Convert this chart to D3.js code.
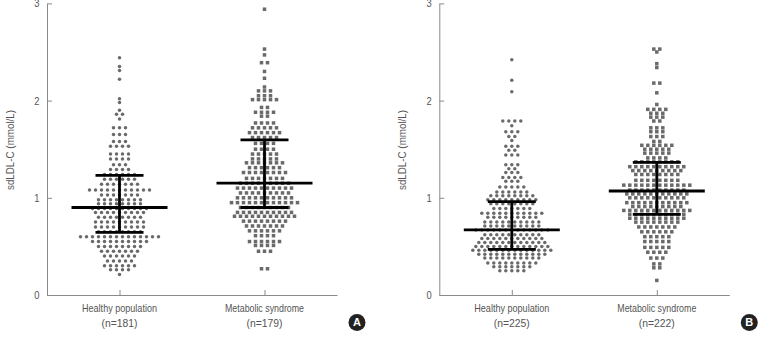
<!DOCTYPE html>
<html>
<head>
<meta charset="utf-8">
<script src="https://cdn.jsdelivr.net/npm/d3@7"></script>
<style>
  body { margin: 0; background: #fff; }
  svg text { font-family: "Liberation Sans Narrow", "Liberation Sans", Arial, sans-serif; }
</style>
</head>
<body>
<div id="plot"></div>
<script>
// categories and labels
var categories = ["Healthy population", "Metabolic syndrome"];
var nLabelsA = ["(n=181)", "(n=179)"];
var nLabelsB = ["(n=225)", "(n=222)"];
var yTicks = [0, 1, 2, 3];

// dot rows: [value, number of dots in the row]
var aHealthy = [[2.44,1],[2.35,1],[2.31,1],[2.22,1],[2.02,1],[1.98,1],[1.90,1],[1.86,2],[1.81,1],[1.72,3],[1.65,3],
  [1.58,3],[1.53,4],[1.45,4],[1.40,4],[1.34,3],[1.29,4],[1.24,6],[1.19,6],[1.14,7],[1.08,11],[1.03,7],[0.98,8],
  [0.94,8],[0.89,10],[0.85,9],[0.80,8],[0.75,9],[0.70,9],[0.65,8],[0.60,14],[0.55,10],[0.50,8],[0.45,7],[0.40,6],
  [0.35,5],[0.30,6],[0.26,4],[0.21,1]];
var aMetS = [[2.94,1],[2.53,1],[2.47,1],[2.39,2],[2.30,1],[2.23,1],[2.14,1],[2.10,3],[2.05,3],[2.01,5],[1.93,2],
  [1.88,4],[1.84,2],[1.77,4],[1.72,5],[1.67,6],[1.62,5],[1.56,4],[1.50,4],[1.45,5],[1.40,5],[1.36,7],[1.31,6],
  [1.26,8],[1.20,7],[1.15,9],[1.10,10],[1.05,9],[1.00,10],[0.95,12],[0.90,9],[0.85,10],[0.81,11],[0.76,8],
  [0.71,7],[0.66,6],[0.61,4],[0.55,6],[0.51,4],[0.45,3],[0.27,2]];
var bHealthy = [[2.42,1],[2.21,1],[2.09,1],[1.79,4],[1.74,1],[1.68,3],[1.63,2],[1.59,1],[1.53,3],[1.49,2],[1.44,3],
  [1.34,3],[1.30,2],[1.26,3],[1.21,4],[1.17,3],[1.11,5],[1.06,6],[1.02,8],[0.98,9],[0.94,8],[0.89,7],[0.84,11],
  [0.80,9],[0.75,10],[0.71,10],[0.67,13],[0.62,10],[0.58,11],[0.54,12],[0.50,13],[0.46,14],[0.42,12],[0.38,10],
  [0.33,9],[0.29,7],[0.25,5]];
var bMetS = [[2.53,2],[2.50,1],[2.38,1],[2.34,1],[2.18,2],[2.08,1],[1.96,1],[1.91,4],[1.87,3],[1.83,3],[1.79,2],
  [1.72,3],[1.68,3],[1.63,3],[1.58,2],[1.54,6],[1.50,5],[1.46,5],[1.41,4],[1.37,8],[1.32,10],[1.28,9],[1.24,8],
  [1.18,8],[1.13,12],[1.08,10],[1.04,11],[1.00,10],[0.95,11],[0.91,9],[0.87,12],[0.83,10],[0.79,10],[0.75,8],
  [0.70,7],[0.65,6],[0.60,5],[0.55,5],[0.49,5],[0.44,4],[0.38,3],[0.32,2],[0.28,2],[0.15,1]];

// median and interquartile range per group
var medianA = [0.90, 1.15];
var q1A = [0.645, 0.90];
var q3A = [1.23, 1.595];
var medianB = [0.67, 1.07];
var q1B = [0.47, 0.83];
var q3B = [0.96, 1.365];

const total_width = 759
const total_height = 337
const dot_color = "#6a6a6a"
const axis_color = "#8a8a8a"
const text_color = "#555"

var svg = d3.select("#plot").append("svg").attr("width", total_width).attr("height", total_height);

function narrow(sel, size, len) {
    // the original uses a condensed face, so squeeze the glyphs to the measured width
    sel.style("font-size", size + "px").attr("textLength", len).attr("lengthAdjust", "spacingAndGlyphs");
}

function draw_panel(left, groups, medians, q1s, q3s, nLabels, letter) {

    const width = 290
    const height = 291.6
    const top = 3.4

    var g = svg.append("g").attr("transform", "translate(" + left + "," + top + ")");

    var x = d3.scalePoint().domain(categories).range([0, width]).padding(0.5);
    var y = d3.scaleLinear().domain([0, 3]).range([height, 0]);

    var yAxis = d3.axisLeft(y).tickValues(yTicks).tickFormat(d3.format("d")).tickSizeInner(-5).tickSizeOuter(0).tickPadding(9);
    var ya = g.append("g").attr("class", "yaxis").call(yAxis);

    var xAxis = d3.axisBottom(x).tickSizeInner(-5).tickSizeOuter(0).tickFormat("");
    g.append("g").attr("class", "xaxis").attr("transform", "translate(0," + height + ")").call(xAxis);

    g.selectAll(".domain, .tick line").attr("stroke", axis_color);
    ya.selectAll("text").attr("fill", text_color).style("font-size", "11px").attr("transform", "scale(0.85,1)");

    // category labels, two lines
    var catLen = [75, 79];
    categories.forEach(function(c, i) {
        g.append("text").attr("x", x(c)).attr("y", height + 17.5).attr("text-anchor", "middle")
            .attr("fill", text_color).text(c).call(narrow, 11.5, catLen[i]);
        g.append("text").attr("x", x(c)).attr("y", height + 32.5).attr("text-anchor", "middle")
            .attr("fill", text_color).text(nLabels[i]).call(narrow, 11.5, 36);
    });

    g.append("text").attr("transform", "rotate(-90)").attr("x", -146.6).attr("y", -33)
        .attr("text-anchor", "middle").attr("fill", text_color).text("sdLDL-C (mmol/L)").call(narrow, 11.5, 80);

    // dots, laid out row by row like a column scatter
    const dx = 6
    groups.forEach(function(rows, gi) {
        var pts = [];
        rows.forEach(function(r) {
            for (var k = 0; k < r[1]; k++) {
                pts.push({v: r[0], off: (k - (r[1] - 1) / 2) * dx});
            }
        });
        var cx = x(categories[gi]);
        if (gi == 0) {
            g.append("g").selectAll("circle").data(pts).enter().append("circle")
                .attr("cx", function(d) {return cx + d.off})
                .attr("cy", function(d) {return y(d.v)})
                .attr("r", 1.75).attr("fill", dot_color);
        } else {
            g.append("g").selectAll("rect").data(pts).enter().append("rect")
                .attr("x", function(d) {return cx + d.off - 1.75})
                .attr("y", function(d) {return y(d.v) - 1.75})
                .attr("width", 3.5).attr("height", 3.5).attr("fill", dot_color);
        }
    });

    // median with interquartile range
    var bars = g.append("g").attr("stroke", "#000").attr("stroke-width", 2.8);
    categories.forEach(function(c, i) {
        var cx = x(c);
        bars.append("line").attr("x1", cx).attr("x2", cx).attr("y1", y(q1s[i])).attr("y2", y(q3s[i]));
        bars.append("line").attr("x1", cx - 48).attr("x2", cx + 48).attr("y1", y(medians[i])).attr("y2", y(medians[i]));
        bars.append("line").attr("x1", cx - 24).attr("x2", cx + 24).attr("y1", y(q1s[i])).attr("y2", y(q1s[i]));
        bars.append("line").attr("x1", cx - 24).attr("x2", cx + 24).attr("y1", y(q3s[i])).attr("y2", y(q3s[i]));
    });

    // panel letter badge
    g.append("circle").attr("cx", width + 20).attr("cy", height + 27.5).attr("r", 8.5).attr("fill", "#222");
    g.append("text").attr("x", width + 20).attr("y", height + 31.5).attr("text-anchor", "middle")
        .attr("fill", "#fff").style("font-family", "'Liberation Sans', Arial, sans-serif")
        .style("font-weight", "bold").style("font-size", "11px").text(letter);
}

draw_panel(47, [aHealthy, aMetS], medianA, q1A, q3A, nLabelsA, "A");
draw_panel(439.3, [bHealthy, bMetS], medianB, q1B, q3B, nLabelsB, "B");
</script>
</body>
</html>
